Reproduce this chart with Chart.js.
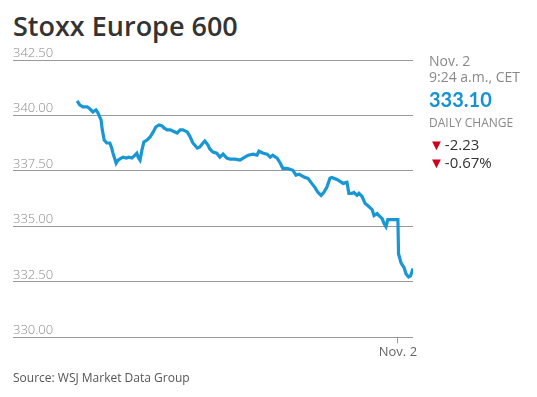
<!DOCTYPE html>
<html>
<head>
<meta charset="utf-8">
<script src="https://cdn.jsdelivr.net/npm/chart.js@4/dist/chart.umd.min.js"></script>
<style>
  html, body { margin: 0; padding: 0; background: #fff; }
  body { width: 537px; height: 397px; position: relative; overflow: hidden; font-family: "Open Sans", Lato, sans-serif; }
  #wrap { position: absolute; left: 0; top: 0; width: 537px; height: 397px; }
  .title { position: absolute; left: 13px; top: 7px; font-size: 27px; font-weight: 600; color: #333; white-space: nowrap; }
  .side { position: absolute; left: 429px; top: 53px; color: #888; font-size: 14px; line-height: 16px; white-space: nowrap; }
  .side .price { color: #1592d2; font-size: 20px; font-weight: 700; line-height: 24px; margin-top: 2px; font-family: Lato, sans-serif; }
  .side .lbl { font-size: 12px; margin-top: 4px; }
  .side .chg { color: #333; font-size: 15px; line-height: 18px; }
  .side .chg span { color: #d0021b; font-size: 15px; margin-right: 1px; }
  .source { position: absolute; left: 13px; top: 369px; font-size: 12px; color: #555; }
</style>
</head>
<body>
<div class="title">Stoxx Europe 600</div>
<div id="wrap"><canvas id="stoxxPlot"></canvas></div>
<div class="side">
  <div>Nov. 2</div>
  <div>9:24 a.m., CET</div>
  <div class="price">333.10</div>
  <div class="lbl">DAILY CHANGE</div>
  <div class="chg" style="margin-top:4px"><span>&#9660;</span>-2.23</div>
  <div class="chg" style="margin-top:0px"><span>&#9660;</span>-0.67%</div>
</div>
<div class="source">Source: WSJ Market Data Group</div>
<script>
// Minutes since the Nov. 1 open (9:00 CET); Nov. 2 session starts at 510
const minutes = [0, 4, 9, 16, 20, 25, 30, 33, 38, 40, 43, 47, 52, 55, 57, 62, 65, 70, 73, 78,
    82, 87, 92, 95, 97, 100, 103, 106, 111, 116, 121, 125, 130, 135, 138, 143, 148, 152, 159, 164,
    168, 175, 179, 184, 191, 195, 200, 203, 208, 211, 216, 222, 227, 232, 238, 243, 251, 259, 264, 272,
    280, 286, 289, 296, 302, 307, 311, 318, 323, 327, 334, 338, 343, 348, 353, 359, 362, 367, 373, 378,
    383, 388, 392, 397, 402, 405, 413, 418, 423, 429, 432, 437, 440, 445, 448, 453, 458, 462, 469, 472,
    477, 480, 485, 488, 491, 494, 510, 511, 515, 520, 523, 527, 530, 534];
const prices = [340.66, 340.48, 340.39, 340.39, 340.30, 340.16, 340.25, 340.12, 339.80, 339.35,
    338.89, 338.76, 338.76, 338.53, 338.30, 337.85, 337.99, 338.08, 338.12, 338.08,
    338.12, 338.08, 338.21, 338.30, 338.12, 337.99, 338.44, 338.80, 338.89, 339.03,
    339.26, 339.48, 339.57, 339.53, 339.44, 339.35, 339.35, 339.30, 339.21, 339.35,
    339.35, 339.26, 339.07, 338.76, 338.53, 338.58, 338.76, 338.85, 338.67, 338.49,
    338.35, 338.30, 338.12, 338.26, 338.08, 338.03, 338.03, 337.99, 338.08, 338.21,
    338.26, 338.21, 338.39, 338.30, 338.26, 338.12, 338.21, 338.08, 337.85, 337.62,
    337.62, 337.58, 337.53, 337.31, 337.35, 337.26, 337.21, 337.17, 336.94, 336.76,
    336.53, 336.40, 336.53, 336.76, 337.17, 337.21, 337.12, 337.03, 336.94, 336.99,
    336.49, 336.49, 336.53, 336.40, 336.49, 336.35, 336.03, 335.94, 335.76, 335.49,
    335.58, 335.49, 335.35, 335.13, 334.99, 335.31, 335.31, 333.77, 333.36, 333.13,
    332.86, 332.72, 332.77, 333.10];
const yTicks = [330, 332.5, 335, 337.5, 340, 342.5];
const xTicks = [510];
const xTickLabels = ['Nov. 2'];

const points = minutes.map((m, i) => ({ x: m, y: prices[i] }));

const stoxxChart = new Chart(document.getElementById('stoxxPlot'), {
    type: 'line',
    data: {
        datasets: [
            {
                data: points,
                fill: false,
                borderColor: '#1896d5', // Blue
                borderWidth: 3.2,
                pointRadius: 0,
                tension: 0
            }
        ]
    },
    options: {
        responsive: true,
        maintainAspectRatio: false,
        animation: false,
        layout: { padding: { left: 13, right: 124, top: 60, bottom: 36 } },
        plugins: { legend: { display: false }, tooltip: { enabled: false } },
        scales: {
            x: {
                type: 'linear',
                min: -102,
                max: 534,
                afterBuildTicks: axis => { axis.ticks = xTicks.map(v => ({ value: v })); },
                ticks: {
                    callback: (v) => xTickLabels[xTicks.indexOf(v)] || '',
                    color: '#666',
                    font: { family: 'Open Sans', size: 13 },
                    padding: 1,
                    maxRotation: 0
                },
                grid: { drawOnChartArea: false, drawTicks: true, tickLength: 6, color: '#999' },
                border: { display: false }
            },
            y: {
                min: 330,
                max: 342.5,
                afterBuildTicks: axis => { axis.ticks = yTicks.map(v => ({ value: v })); },
                ticks: {
                    mirror: true,
                    padding: 0,
                    labelOffset: -7,
                    color: '#8a8a8a',
                    font: { family: 'Open Sans', size: 13, weight: '300' },
                    callback: v => v.toFixed(2)
                },
                grid: { color: '#999', drawTicks: false },
                border: { display: false }
            }
        }
    }
});
</script>
</body>
</html>
